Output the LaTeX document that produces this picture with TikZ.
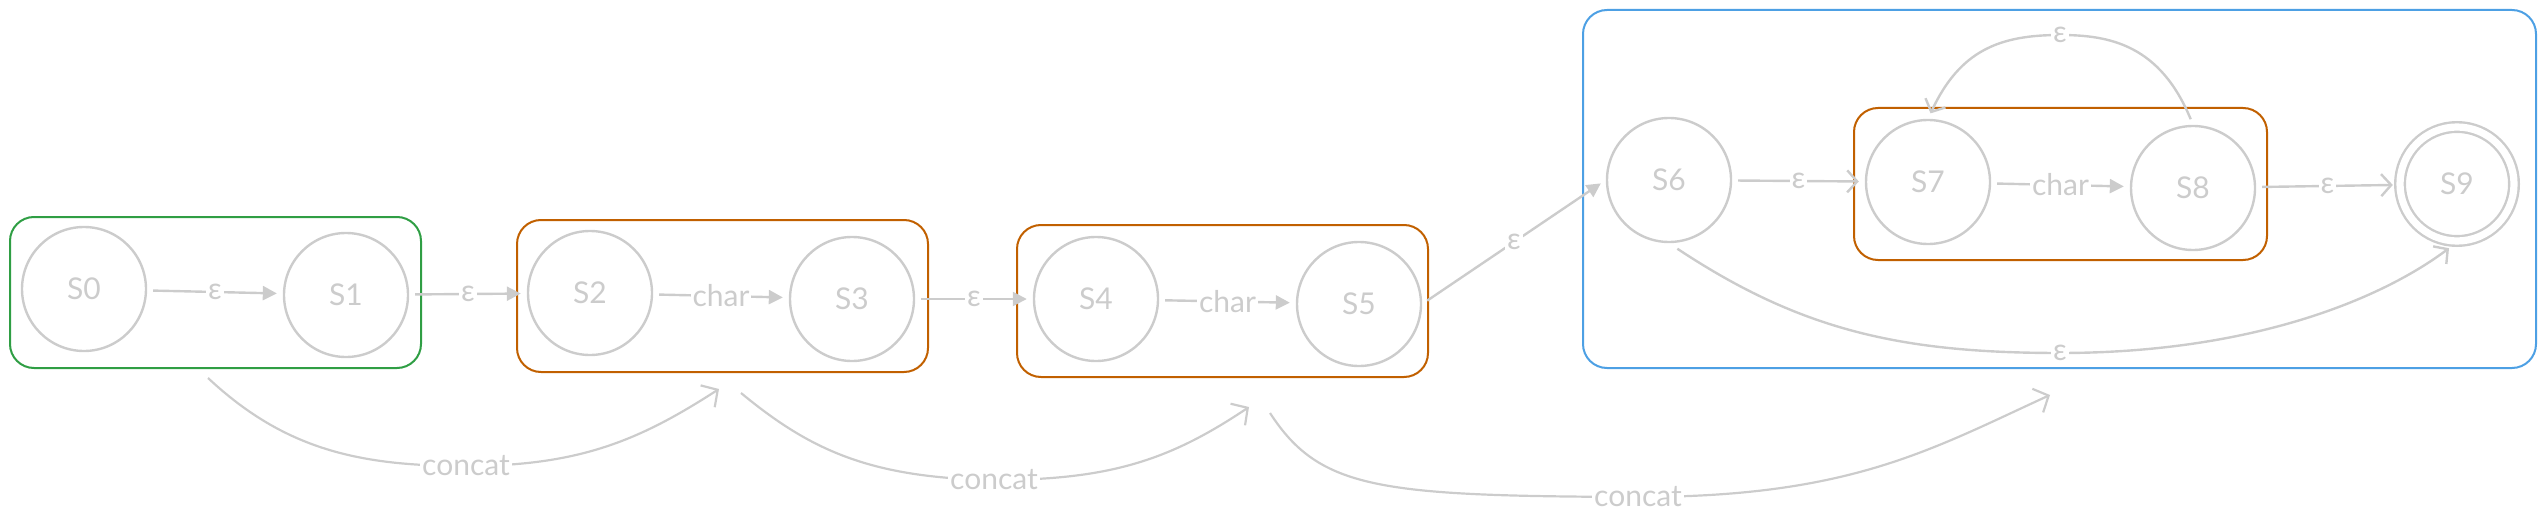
\documentclass[tikz,border=0pt]{standalone}
\usepackage{fontspec}
\setmainfont{Lato}
\usetikzlibrary{arrows.meta}

\definecolor{stgray}{RGB}{204,204,204}
\definecolor{grpgreen}{RGB}{47,158,68}
\definecolor{grporange}{RGB}{193,96,0}
\definecolor{grpblue}{RGB}{77,160,228}

\begin{document}
\begin{tikzpicture}[x=0.5pt,y=0.5pt,yscale=-1,
  state/.style={circle,draw=stgray,line width=1.2pt,minimum size=62pt,inner sep=0pt,text=stgray,font=\fontsize{15}{17}\selectfont},
  final/.style={state,minimum size=57pt,double=white,double distance=3.6pt},
  grp/.style={draw,line width=1pt,rounded corners=12pt},
  tr/.style={draw=stgray,line width=1.2pt,-{Triangle[length=7pt,width=7pt]},shorten <=3pt,shorten >=3pt},
  tro/.style={draw=stgray,line width=1.2pt,-{Straight Barb[length=5pt,width=11pt]},shorten <=3pt,shorten >=3pt},
  cat/.style={draw=stgray,line width=1.1pt,-{Straight Barb[length=6pt,width=13pt]}},
  lbl/.style={fill=white,inner sep=1pt,text=stgray,font=\fontsize{15}{17}\selectfont}]
\useasboundingbox (0,0) rectangle (2544,524);

% groups
\draw[grp,draw=grpgreen] (10,217) rectangle (421,368);
\draw[grp,draw=grporange] (517,220) rectangle (928,372);
\draw[grp,draw=grporange] (1017,225) rectangle (1428,377);
\draw[grp,draw=grpblue] (1583,10) rectangle (2536,368);
\draw[grp,draw=grporange] (1854,108) rectangle (2267,260);

% states
\node[state] (s0) at (84,289) {S0};
\node[state] (s1) at (346,295) {S1};
\node[state] (s2) at (590,293) {S2};
\node[state] (s3) at (852,299) {S3};
\node[state] (s4) at (1096,299) {S4};
\node[state] (s5) at (1359,304) {S5};
\node[state] (s6) at (1669,180) {S6};
\node[state] (s7) at (1928,182) {S7};
\node[state] (s8) at (2193,188) {S8};
\node[final] (s9) at (2457,184) {S9};

% transitions
\draw[tr] (s0) -- node[lbl]{ε} (s1);
\draw[tr] (s1) -- node[lbl]{ε} (s2);
\draw[tr] (s2) -- node[lbl]{char} (s3);
\draw[tr] (s3) -- node[lbl]{ε} (s4);
\draw[tr] (s4) -- node[lbl]{char} (s5);
\draw[tr] (s5.east) -- node[lbl]{ε} (s6.west);
\draw[tro] (s6) -- node[lbl]{ε} (s7);
\draw[tr] (s7) -- node[lbl]{char} (s8);
\draw[tro] (s8) -- node[lbl]{ε} (s9);
\draw[tro] (s8.north) .. controls (2160,45) and (2110,35) .. (2060,35) node[lbl]{ε} .. controls (2000,35) and (1960,50) .. (s7.north);
\draw[tro,shorten <=5pt,shorten >=5pt] (s6.south) .. controls (1800,330) and (1900,353) .. (2060,353) node[lbl]{ε} .. controls (2250,353) and (2380,300) .. (s9.south);

% concatenations
\coordinate (c1a) at (208,378);
\coordinate (c1b) at (719,389);
\coordinate (c2a) at (741,393);
\coordinate (c2b) at (1249,407);
\coordinate (c3a) at (1270,413);
\coordinate (c3b) at (2050,395);
\draw[cat] (c1a) .. controls (285,450) and (360,466) .. (466,466) node[lbl]{concat} .. controls (580,466) and (640,440) .. (c1b);
\draw[cat] (c2a) .. controls (810,450) and (870,478) .. (994,480) node[lbl]{concat} .. controls (1110,480) and (1170,460) .. (c2b);
\draw[cat] (c3a) .. controls (1320,490) and (1380,496) .. (1638,497) node[lbl]{concat} .. controls (1850,497) and (1930,450) .. (c3b);
\end{tikzpicture}
\end{document}
